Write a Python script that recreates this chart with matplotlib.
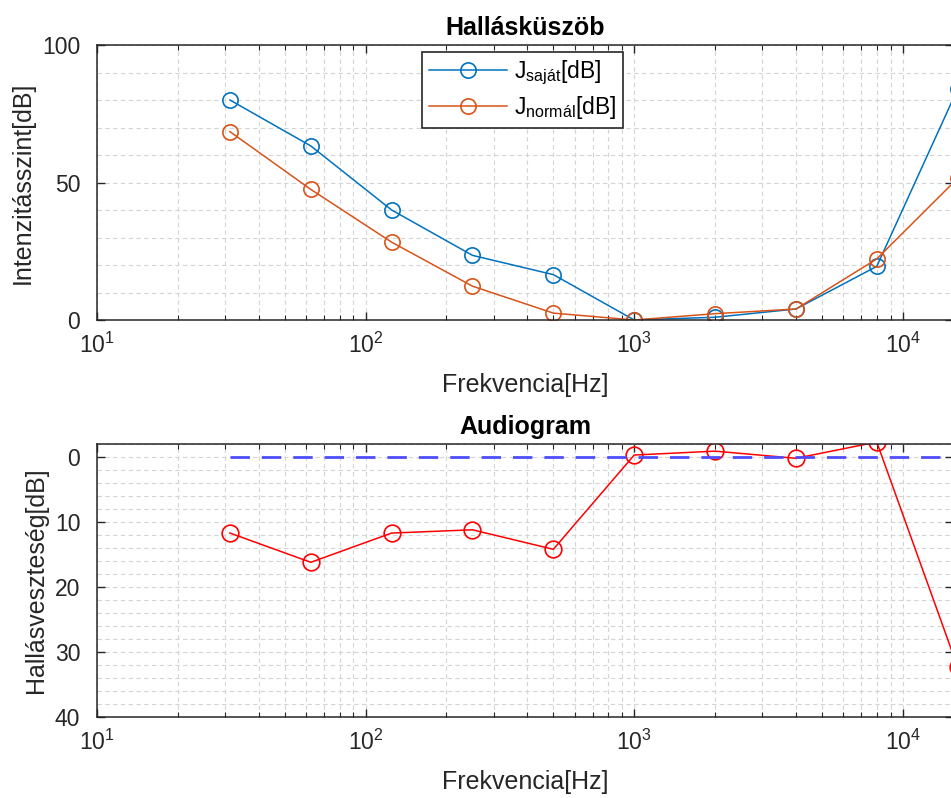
import matplotlib
matplotlib.use("Agg")
import matplotlib.pyplot as plt
from matplotlib.ticker import MultipleLocator, LogLocator, NullFormatter

# data
freq = [31.25, 62.5, 125, 250, 500, 1000, 2000, 4000, 8000, 16000]
j_sajat = [80, 63.3, 40, 23.5, 16.5, 0, 1, 4, 19.5, 84]
j_normal = [68.5, 47.5, 28.3, 12.3, 2.5, 0, 2.3, 4, 22.2, 51.5]
loss = [11.7, 16.2, 11.7, 11.2, 14.2, -0.3, -0.9, 0.2, -2.3, 32.3]
zero_line = [0] * len(freq)

plt.rcParams['font.family'] = ['Liberation Sans', 'DejaVu Sans']
plt.rcParams['mathtext.fontset'] = 'custom'
plt.rcParams['mathtext.rm'] = 'Liberation Sans'
plt.rcParams['mathtext.it'] = 'Liberation Sans:italic'

W, H = 951, 798
fig = plt.figure(figsize=(W / 100, H / 100), dpi=100)

txt = '#262626'
x_left, x_right = 97, 953
decade_px = 268.6
xmax = 10 ** (1 + (x_right - x_left) / decade_px)


def style_axes(ax, ymin, ymax, major, minor):
    ax.set_xscale('log')
    ax.set_xlim(10, xmax)
    ax.set_ylim(ymin, ymax)
    ax.yaxis.set_major_locator(MultipleLocator(major))
    ax.yaxis.set_minor_locator(MultipleLocator(minor))
    ax.xaxis.set_major_locator(LogLocator(base=10, numticks=10))
    ax.xaxis.set_minor_locator(LogLocator(base=10, subs=range(2, 10), numticks=20))
    ax.xaxis.set_minor_formatter(NullFormatter())
    ax.grid(True, which='both', color='#d4d4d4', ls=(0, (4, 3)), lw=0.8)
    ax.set_axisbelow(True)
    ax.tick_params(which='both', direction='in', top=True, right=True,
                   colors=txt, labelsize=16.5)
    ax.tick_params(which='major', length=6, width=1)
    ax.tick_params(which='minor', length=3.5, width=0.8)
    ax.tick_params(axis='y', which='minor', length=0)
    ax.tick_params(axis='x', which='major', pad=9)
    ax.tick_params(axis='y', which='major', pad=12)
    for s in ax.spines.values():
        s.set_color(txt)
        s.set_linewidth(1.1)


# top panel
ax1 = fig.add_axes([x_left / W, 1 - 320 / H, (x_right - x_left) / W, 275 / H])
style_axes(ax1, 0, 100, 50, 10)
ax1.plot(freq, j_sajat, '-o', color='#0072BD', lw=1.1, ms=11, mfc='none', mew=1.2,
         label=r'J$_{\rm saját}$[dB]')
ax1.plot(freq, j_normal, '-o', color='#D95319', lw=1.1, ms=11, mfc='none', mew=1.2,
         label=r'J$_{\rm normál}$[dB]')
ax1.set_title('Hallásküszöb', fontsize=18, fontweight='bold', color='black', pad=7)
ax1.set_xlabel('Frekvencia[Hz]', fontsize=18, color=txt, labelpad=11)
ax1.set_ylabel('Intenzitásszint[dB]', fontsize=18, color=txt, labelpad=5)
leg = ax1.legend(loc='upper left', bbox_to_anchor=(422 / W, 1 - 52 / H),
                 bbox_transform=fig.transFigure, fontsize=16.5, fancybox=False,
                 framealpha=1, edgecolor='#262626', handlelength=3.4,
                 handletextpad=0.3, borderaxespad=0, borderpad=0.3,
                 labelspacing=0.3)
leg.get_frame().set_linewidth(1.2)

# bottom panel
ax2 = fig.add_axes([x_left / W, 1 - 717 / H, (x_right - x_left) / W, 273 / H])
style_axes(ax2, 40, -2, 10, 2)
ax2.plot(freq, loss, 'r-o', lw=1.1, ms=12, mfc='none', mew=1.2)
ax2.plot(freq, zero_line, color='#4d4dff', lw=2, dashes=(7, 4.3))
ax2.set_title('Audiogram', fontsize=18, fontweight='bold', color='black', pad=7)
ax2.set_xlabel('Frekvencia[Hz]', fontsize=18, color=txt, labelpad=11)
ax2.set_ylabel('Hallásveszteség[dB]', fontsize=18, color=txt, labelpad=5)

fig.savefig('out.png', dpi=100)
